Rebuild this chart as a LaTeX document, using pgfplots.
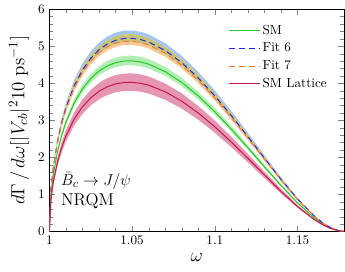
\documentclass[border=0pt]{standalone}
\usepackage{pgfplots}
\usepackage{pgfplotstable}
\pgfplotsset{compat=1.18}
\usepgfplotslibrary{fillbetween}
\definecolor{smgreen}{RGB}{40,200,40}
\definecolor{smband}{RGB}{178,238,178}
\definecolor{fitblue}{RGB}{30,40,230}
\definecolor{fitorange}{RGB}{250,120,50}
\definecolor{blueband}{RGB}{165,195,252}
\definecolor{oliveband}{RGB}{200,196,118}
\definecolor{orangeband}{RGB}{252,200,145}
\definecolor{latline}{RGB}{200,20,80}
\definecolor{latband}{RGB}{228,150,178}
\pgfplotstableread{
w      bT    oT    fa    fb    bB    oB    gT    g     gB    pT    p     pB
1.0000 0     0     0     0     0     0     0     0     0     0     0     0
1.0010 1.172 1.151 1.127 1.110 1.105 1.088 1.026 0.995 0.969 0.922 0.870 0.820
1.0025 1.834 1.800 1.763 1.736 1.729 1.702 1.604 1.557 1.516 1.442 1.361 1.283
1.0050 2.545 2.498 2.447 2.409 2.400 2.362 2.226 2.161 2.104 2.001 1.889 1.781
1.0075 3.061 3.005 2.943 2.898 2.887 2.842 2.678 2.599 2.531 2.407 2.272 2.142
1.0100 3.469 3.405 3.335 3.283 3.271 3.220 3.034 2.945 2.868 2.728 2.574 2.427
1.0150 4.087 4.012 3.929 3.869 3.854 3.794 3.575 3.470 3.380 3.214 3.033 2.860
1.0200 4.534 4.450 4.358 4.291 4.275 4.208 3.966 3.849 3.749 3.565 3.365 3.173
1.0250 4.860 4.770 4.672 4.600 4.582 4.511 4.251 4.126 4.019 3.822 3.607 3.401
1.0300 5.099 5.005 4.902 4.827 4.808 4.733 4.461 4.329 4.217 4.010 3.785 3.569
1.0350 5.264 5.167 5.060 4.983 4.963 4.886 4.605 4.469 4.353 4.139 3.907 3.684
1.0400 5.368 5.269 5.160 5.081 5.061 4.982 4.695 4.557 4.438 4.221 3.984 3.756
1.0450 5.420 5.320 5.210 5.130 5.110 5.030 4.741 4.601 4.481 4.262 4.022 3.793
1.0500 5.426 5.326 5.216 5.136 5.116 5.036 4.747 4.607 4.487 4.267 4.027 3.797
1.0550 5.391 5.292 5.183 5.104 5.084 5.004 4.716 4.577 4.458 4.240 4.001 3.773
1.0600 5.320 5.222 5.115 5.036 5.017 4.938 4.654 4.517 4.399 4.184 3.949 3.723
1.0700 5.083 4.989 4.886 4.812 4.793 4.718 4.446 4.315 4.203 3.997 3.772 3.557
1.0800 4.741 4.654 4.558 4.488 4.471 4.401 4.148 4.025 3.921 3.729 3.519 3.318
1.0900 4.308 4.229 4.142 4.078 4.062 3.999 3.769 3.658 3.562 3.388 3.197 3.015
1.1000 3.806 3.736 3.659 3.603 3.589 3.533 3.330 3.232 3.147 2.993 2.825 2.664
1.1100 3.251 3.191 3.125 3.077 3.065 3.017 2.844 2.760 2.688 2.556 2.413 2.275
1.1200 2.660 2.611 2.557 2.518 2.508 2.469 2.327 2.258 2.200 2.092 1.974 1.862
1.1300 2.056 2.018 1.977 1.947 1.939 1.909 1.799 1.746 1.700 1.617 1.526 1.439
1.1400 1.461 1.434 1.404 1.383 1.377 1.356 1.278 1.240 1.208 1.149 1.084 1.022
1.1500 0.907 0.890 0.872 0.858 0.855 0.842 0.793 0.770 0.750 0.713 0.673 0.635
1.1600 0.436 0.428 0.419 0.413 0.411 0.405 0.381 0.370 0.361 0.343 0.324 0.305
1.1650 0.249 0.244 0.239 0.235 0.234 0.231 0.218 0.211 0.206 0.196 0.185 0.174
1.1700 0.106 0.104 0.102 0.101 0.100 0.099 0.093 0.090 0.088 0.084 0.079 0.074
1.1750 0.020 0.020 0.019 0.019 0.019 0.019 0.018 0.017 0.017 0.016 0.015 0.014
1.1786 0     0     0     0     0     0     0     0     0     0     0     0
}\data
\begin{document}
\begin{tikzpicture}
\begin{axis}[
  scale only axis, width=224pt, height=169pt,
  xmin=1, xmax=1.178, ymin=0, ymax=6,
  xtick={1,1.05,1.1,1.15}, ytick={0,1,2,3,4,5,6},
  minor x tick num=4, minor y tick num=4,
  tick label style={font=\normalsize},
  xlabel={\fontsize{14}{16}\selectfont $\omega$},
  ylabel={\fontsize{14}{16}\selectfont $d\Gamma\,/\,d\omega[|V_{cb}|^2 10\ \mathrm{ps}^{-1}]$},
  legend cell align=left,
  legend style={draw=none, fill=none, at={(0.965,0.955)}, anchor=north east, font=\normalsize, row sep=1.2pt},
  legend image code/.code={\draw[#1] (0pt,0pt) -- (23pt,0pt);},
]
% bands
\addplot[draw=none, name path=bT, forget plot] table[x=w,y=bT]{\data};
\addplot[draw=none, name path=oT, forget plot] table[x=w,y=oT]{\data};
\addplot[draw=none, name path=bB, forget plot] table[x=w,y=bB]{\data};
\addplot[draw=none, name path=oB, forget plot] table[x=w,y=oB]{\data};
\addplot[draw=none, name path=gT, forget plot] table[x=w,y=gT]{\data};
\addplot[draw=none, name path=gB, forget plot] table[x=w,y=gB]{\data};
\addplot[draw=none, name path=pT, forget plot] table[x=w,y=pT]{\data};
\addplot[draw=none, name path=pB, forget plot] table[x=w,y=pB]{\data};
\addplot[fill=latband, draw=none, forget plot] fill between[of=pT and pB];
\addplot[fill=smband, draw=none, forget plot] fill between[of=gT and gB];
\addplot[fill=blueband, draw=none, forget plot] fill between[of=bT and oT];
\addplot[fill=oliveband, draw=none, forget plot] fill between[of=oT and bB];
\addplot[fill=orangeband, draw=none, forget plot] fill between[of=bB and oB];
% central lines
\addplot[smgreen, line width=0.75pt] table[x=w,y=g]{\data};
\addlegendentry{SM}
\addplot[fitblue, line width=0.75pt, dash pattern=on 4.5pt off 3pt] table[x=w,y=fa]{\data};
\addlegendentry{Fit 6}
\addplot[fitorange, line width=0.75pt, dash pattern=on 4.5pt off 3pt] table[x=w,y=fb]{\data};
\addlegendentry{Fit 7}
\addplot[latline, line width=0.75pt] table[x=w,y=p]{\data};
\addlegendentry{SM Lattice}
\node[anchor=south west, align=left, inner sep=0pt, font=\fontsize{13}{15.5}\selectfont] at (axis cs:1.007,0.6) {$\bar{B}_c \to J/\psi$\\NRQM};
\end{axis}
\pgfresetboundingbox
\path (current axis.south west) +(-37.5pt,-30.4pt) (current axis.north east) +(0.8pt,7pt);
\end{tikzpicture}
\end{document}
